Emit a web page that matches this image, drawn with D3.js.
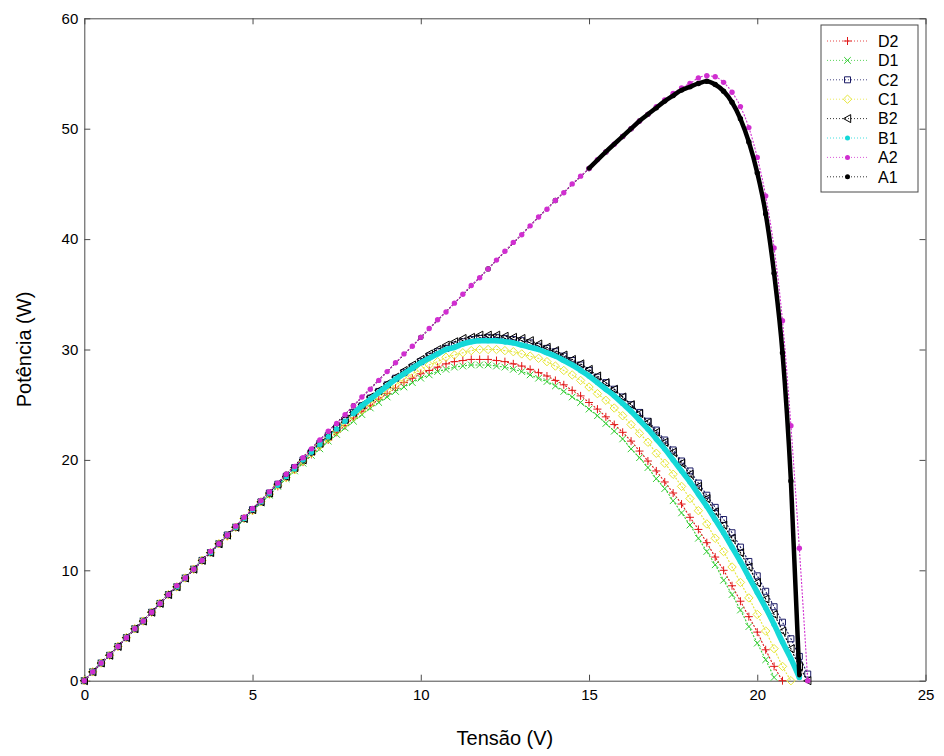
<!DOCTYPE html>
<html>
<head>
<meta charset="utf-8">
<script src="https://cdn.jsdelivr.net/npm/d3@7"></script>
<style>
  body { margin: 0; background: #fff; }
  svg { font-family: "Liberation Sans", Arial, sans-serif; }
</style>
</head>
<body>
<svg id="chart"></svg>
<script>
// voltage grid shared by most curves (V)
const tensao = [0,0.25,0.5,0.75,1,1.25,1.5,1.75,2,2.25,2.5,2.75,3,3.25,3.5,3.75,4,4.25,4.5,4.75,5,5.25,5.5,5.75,6,6.25,6.5,6.75,7,7.25,7.5,7.75,8,8.25,8.5,8.75,9,9.25,9.5,9.75,10,10.25,10.5,10.75,11,11.25,11.5,11.75,12,12.25,12.5,12.75,13,13.25,13.5,13.75,14,14.25,14.5,14.75,15,15.25,15.5,15.75,16,16.25,16.5,16.75,17,17.25,17.5,17.75,18,18.25,18.5,18.75,19,19.25,19.5,19.75,20,20.25,20.5,20.75,21,21.25,21.5];

// A1 is sampled more sparsely on the flat part
const tensaoA1 = [0,2,4,6,8,10,12,14,15,15.5,16,16.25,16.5,16.75,17,17.25,17.5,17.75,18,18.25,18.5,18.75,19,19.25,19.5,19.75,20,20.25,20.5,20.75,21,21.25];

// power (W)
const potD2 = [0,0.8,1.6,2.3,3.1,3.9,4.7,5.4,6.2,7,7.8,8.5,9.3,10.1,10.9,11.6,12.4,13.1,13.9,14.7,15.4,16.2,16.9,17.6,18.4,19.1,19.8,20.5,21.2,21.8,22.5,23.1,23.8,24.4,24.9,25.5,26,26.5,27,27.4,27.8,28.1,28.4,28.7,28.9,29,29.1,29.1,29.1,29,28.9,28.7,28.5,28.2,27.9,27.6,27.2,26.8,26.3,25.8,25.2,24.6,23.9,23.2,22.5,21.7,20.8,19.9,19,18,17,16,14.8,13.7,12.5,11.2,10,8.6,7.2,5.8,4.4,2.8,1.3,0];
const potD1 = [0,0.8,1.6,2.3,3.1,3.9,4.7,5.4,6.2,7,7.8,8.5,9.3,10.1,10.9,11.6,12.4,13.1,13.9,14.6,15.4,16.1,16.8,17.6,18.3,19,19.7,20.4,21,21.7,22.3,22.9,23.5,24.1,24.7,25.2,25.7,26.2,26.6,27,27.4,27.7,28,28.2,28.4,28.5,28.6,28.6,28.6,28.5,28.4,28.2,28,27.7,27.4,27.1,26.7,26.2,25.7,25.2,24.6,24,23.3,22.6,21.9,21,20.2,19.3,18.3,17.4,16.3,15.2,14.1,12.9,11.7,10.5,9.1,7.8,6.4,4.9,3.4,1.9,0.3];
const potC2 = [0,0.8,1.6,2.3,3.1,3.9,4.7,5.4,6.2,7,7.8,8.5,9.3,10.1,10.9,11.6,12.4,13.2,13.9,14.7,15.5,16.2,17,17.8,18.5,19.3,20,20.7,21.5,22.2,22.9,23.6,24.3,24.9,25.6,26.2,26.8,27.4,27.9,28.4,28.9,29.4,29.8,30.1,30.4,30.7,30.9,31,31.1,31.1,31,30.9,30.8,30.6,30.3,30.1,29.8,29.4,29,28.6,28.1,27.5,27,26.4,25.7,25,24.3,23.5,22.7,21.8,20.9,19.9,19,17.9,16.8,15.7,14.6,13.4,12.1,10.8,9.5,8.1,6.7,5.3,3.8,2.2,0.6];
const potC1 = [0,0.8,1.6,2.3,3.1,3.9,4.7,5.4,6.2,7,7.8,8.5,9.3,10.1,10.9,11.6,12.4,13.1,13.9,14.7,15.4,16.2,16.9,17.7,18.4,19.1,19.9,20.6,21.3,21.9,22.6,23.3,23.9,24.5,25.1,25.7,26.3,26.8,27.3,27.8,28.2,28.6,28.9,29.3,29.5,29.7,29.9,30,30,30,29.9,29.8,29.6,29.4,29.2,28.9,28.5,28.1,27.7,27.2,26.6,26,25.4,24.7,24,23.2,22.4,21.6,20.6,19.7,18.7,17.6,16.5,15.4,14.2,12.9,11.7,10.3,8.9,7.5,6,4.5,2.9,1.3,0];
const potB2 = [0,0.8,1.6,2.3,3.1,3.9,4.7,5.4,6.2,7,7.8,8.5,9.3,10.1,10.9,11.6,12.4,13.2,13.9,14.7,15.5,16.2,17,17.8,18.5,19.3,20,20.8,21.5,22.2,23,23.7,24.3,25,25.7,26.3,26.9,27.5,28.1,28.6,29.1,29.6,30,30.4,30.7,31,31.1,31.3,31.3,31.3,31.2,31.1,31,30.8,30.5,30.2,29.9,29.5,29.1,28.7,28.2,27.6,27,26.4,25.7,25,24.2,23.4,22.5,21.6,20.7,19.7,18.7,17.6,16.5,15.3,14.1,12.9,11.6,10.3,8.9,7.4,6,4.5,2.9,1.3,0];
const potB1 = [0,0.8,1.6,2.3,3.1,3.9,4.7,5.4,6.2,7,7.8,8.5,9.3,10.1,10.9,11.6,12.4,13.2,13.9,14.7,15.5,16.2,17,17.7,18.5,19.2,20,20.7,21.4,22.1,22.8,23.5,24.2,24.9,25.5,26.1,26.7,27.3,27.8,28.3,28.8,29.2,29.6,30,30.2,30.5,30.7,30.8,30.8,30.8,30.7,30.6,30.4,30.2,30,29.7,29.4,29,28.6,28.1,27.6,27,26.4,25.8,25.1,24.4,23.6,22.8,21.9,21,20,19,18,16.9,15.8,14.6,13.4,12.1,10.8,9.4,8,6.6,5.1,3.5,2,0.3];
const potA2 = [0,0.8,1.6,2.3,3.1,3.9,4.7,5.4,6.2,7,7.8,8.6,9.3,10.1,10.9,11.7,12.4,13.2,14,14.8,15.6,16.3,17.1,17.9,18.7,19.4,20.2,21,21.8,22.6,23.3,24.1,24.9,25.7,26.4,27.2,28,28.8,29.6,30.3,31.1,31.9,32.7,33.4,34.2,35,35.8,36.5,37.3,38.1,38.9,39.7,40.4,41.2,42,42.7,43.5,44.2,45,45.7,46.4,47.2,47.9,48.6,49.3,50,50.7,51.3,52,52.6,53.2,53.7,54.1,54.6,54.8,54.7,54.2,53.3,52,50.1,47.4,43.9,39.2,32.6,23.1,12,0];
const potA1 = [0,6.2,12.4,18.7,24.9,31.1,37.3,43.5,46.4,47.9,49.3,50,50.7,51.3,51.9,52.5,53,53.5,53.8,54.1,54.3,54,53.4,52.4,50.9,48.8,46,42.3,36.9,29.7,18.1,0.5];

const legendNames = ["D2", "D1", "C2", "C1", "B2", "B1", "A2", "A1"];
const xTicks = [0, 5, 10, 15, 20, 25];
const yTicks = [0, 10, 20, 30, 40, 50, 60];

const w = 944;
const h = 756;
const pLeft = 84.3, pRight = 925.5, pTop = 18.3, pBottom = 680.7;

const svg = d3.select("#chart").attr("width", w).attr("height", h);

const x = d3.scaleLinear().domain([0, 25]).range([pLeft, pRight]);
const y = d3.scaleLinear().domain([0, 60]).range([pBottom, pTop]);

const markerPath = {
  plus: "M-4,0H4M0,-4V4",
  cross: "M-3.3,-3.3L3.3,3.3M-3.3,3.3L3.3,-3.3",
  square: "M-3,-3H3V3H-3Z",
  diamond: "M0,-4.2L4.2,0L0,4.2L-4.2,0Z",
  tri: "M-4,0L3.2,-4V4Z"
};

const series = [
  { v: tensao, p: potD2, color: "#e01818", marker: "plus" },
  { v: tensao, p: potD1, color: "#33cc33", marker: "cross" },
  { v: tensao, p: potC2, color: "#1c1c66", marker: "square" },
  { v: tensao, p: potC1, color: "#e6e63a", marker: "diamond" },
  { v: tensao, p: potB2, color: "#000000", marker: "tri" },
  { v: tensao, p: potB1, color: "#14d8d8", marker: "dot", solidFrom: 8, solidWidth: 5.5 },
  { v: tensao, p: potA2, color: "#d02ed0", marker: "dot" },
  { v: tensaoA1, p: potA1, color: "#000000", marker: "dot", solidFrom: 15, solidWidth: 4.5 }
];
series.forEach((s, i) => {
  s.name = legendNames[i];
  s.pts = s.p.map((p, k) => [s.v[k], p]);
});

// frame + axes
const xAxis = d3.axisBottom(x).tickValues(xTicks).tickSizeInner(-6).tickSizeOuter(0).tickPadding(9);
const yAxis = d3.axisLeft(y).tickValues(yTicks).tickSizeInner(-6).tickSizeOuter(0).tickPadding(6);
const xTop = d3.axisTop(x).tickValues(xTicks).tickSizeInner(-6).tickSizeOuter(0).tickFormat("");
const yRight = d3.axisRight(y).tickValues(yTicks).tickSizeInner(-6).tickSizeOuter(0).tickFormat("");

svg.append("g").attr("transform", `translate(0,${pBottom})`).call(xAxis);
svg.append("g").attr("transform", `translate(${pLeft},0)`).call(yAxis);
svg.append("g").attr("transform", `translate(0,${pTop})`).call(xTop);
svg.append("g").attr("transform", `translate(${pRight},0)`).call(yRight);

svg.selectAll(".domain, .tick line").attr("stroke", "#4a4a4a");
svg.selectAll(".tick text").attr("font-size", 15).attr("fill", "#000")
  .attr("font-family", "'Liberation Sans', Arial, sans-serif");

const line = d3.line().x((d) => x(d[0])).y((d) => y(d[1])).curve(d3.curveMonotoneX);

const plot = svg.append("g");

// A1 goes under A2 so its sparse points hide behind the magenta dots
const drawOrder = ["D2", "D1", "C2", "C1", "B2", "B1", "A1", "A2"];

drawOrder.forEach((name) => {
  const s = series.find((d) => d.name === name);
  const g = plot.append("g");

  g.append("path")
    .datum(s.pts)
    .attr("d", line)
    .attr("fill", "none")
    .attr("stroke", s.color)
    .attr("stroke-width", 1.1)
    .attr("stroke-dasharray", "2,1.5");

  if (s.marker === "dot") {
    g.selectAll("circle")
      .data(s.pts)
      .join("circle")
      .attr("cx", (d) => x(d[0]))
      .attr("cy", (d) => y(d[1]))
      .attr("r", 2.7)
      .attr("fill", s.color);
  } else {
    g.selectAll("path.m")
      .data(s.pts)
      .join("path")
      .attr("class", "m")
      .attr("d", markerPath[s.marker])
      .attr("transform", (d) => `translate(${x(d[0])},${y(d[1])})`)
      .attr("fill", "none")
      .attr("stroke", s.color)
      .attr("stroke-width", 1);
  }
});

// the densely sampled stretches read as solid bands
series.filter((s) => s.solidFrom !== undefined).forEach((s) => {
  plot.append("path")
    .datum(s.pts.filter((d) => d[0] >= s.solidFrom))
    .attr("d", line)
    .attr("fill", "none")
    .attr("stroke", s.color)
    .attr("stroke-width", s.solidWidth)
    .attr("stroke-linejoin", "round")
    .attr("stroke-linecap", "round");
});

// axis titles
svg.append("text")
  .attr("x", (pLeft + pRight) / 2)
  .attr("y", 745)
  .attr("text-anchor", "middle")
  .attr("font-size", 20)
  .text("Tensão (V)");

svg.append("text")
  .attr("transform", `translate(31,${(pTop + pBottom) / 2}) rotate(-90)`)
  .attr("text-anchor", "middle")
  .attr("font-size", 20)
  .text("Potência (W)");

// legend
const lg = svg.append("g");
lg.append("rect")
  .attr("x", 821).attr("y", 25)
  .attr("width", 97).attr("height", 167)
  .attr("fill", "#fff")
  .attr("stroke", "#4a4a4a");

series.forEach((s, i) => {
  const yy = 41 + i * 19.4;
  lg.append("line")
    .attr("x1", 827).attr("x2", 868)
    .attr("y1", yy).attr("y2", yy)
    .attr("stroke", s.color)
    .attr("stroke-width", 0.8)
    .attr("stroke-dasharray", "1,2");
  if (s.marker === "dot") {
    lg.append("circle").attr("cx", 847.5).attr("cy", yy).attr("r", 2.5).attr("fill", s.color);
  } else {
    lg.append("path")
      .attr("d", markerPath[s.marker])
      .attr("transform", `translate(847.5,${yy})`)
      .attr("fill", "none")
      .attr("stroke", s.color)
      .attr("stroke-width", 1);
  }
  lg.append("text")
    .attr("x", 878).attr("y", yy)
    .attr("dy", "0.36em")
    .attr("font-size", 16)
    .text(s.name);
});
</script>
</body>
</html>
